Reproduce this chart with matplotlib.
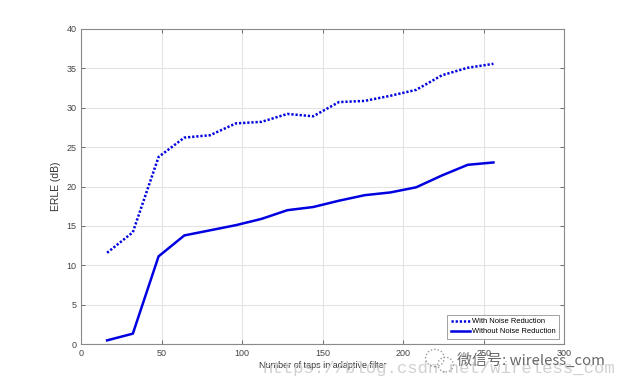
import matplotlib.pyplot as plt
from matplotlib.patches import Ellipse

plt.rcParams['font.family'] = ['Liberation Sans', 'DejaVu Sans']

taps = [16, 32, 48, 64, 80, 96, 112, 128, 144, 160, 176, 192, 208, 224, 240, 256]
with_nr = [11.6, 14.2, 23.75, 26.2, 26.5, 28.0, 28.2, 29.2, 28.9, 30.7, 30.85, 31.5, 32.25, 34.1, 35.05, 35.55]
without_nr = [0.5, 1.35, 11.15, 13.8, 14.45, 15.1, 15.9, 17.0, 17.4, 18.2, 18.9, 19.25, 19.9, 21.4, 22.75, 23.05]

xticks = [0, 50, 100, 150, 200, 250, 300]
yticks = [0, 5, 10, 15, 20, 25, 30, 35, 40]

axcol = '#5a5a5a'
blue = '#0000e0'

fig = plt.figure(figsize=(6.24, 3.87), dpi=100)
ax = fig.add_axes([0.1303, 0.1103, 0.774, 0.8155])

ax.plot(taps, with_nr, color=blue, linestyle=(0, (0.9, 0.75)), linewidth=1.8,
        label='With Noise Reduction')
ax.plot(taps, without_nr, color=blue, linestyle='-', linewidth=1.8,
        label='Without Noise Reduction')

ax.set_xlim(0, 300)
ax.set_ylim(0, 40)
ax.set_xticks(xticks)
ax.set_yticks(yticks)
ax.grid(True, color='#e3e3e3', linewidth=0.8)
ax.set_axisbelow(True)
ax.tick_params(direction='in', length=3, width=0.6, colors=axcol, labelsize=6.5,
               top=True, right=True, labelcolor='#444444')
for s in ax.spines.values():
    s.set_color('#8a8a8a')
    s.set_linewidth(0.8)

ax.set_xlabel('Number of taps in adaptive filter', fontsize=6.5, color='#333333', labelpad=2)
ax.set_ylabel('ERLE (dB)', fontsize=7.5, color='#333333', labelpad=4)

leg = ax.legend(loc='lower right', fontsize=5.4, frameon=True, fancybox=False,
                handlelength=2.6, handletextpad=0.2, borderpad=0.45, labelspacing=0.35,
                borderaxespad=0.75)
leg.get_frame().set_edgecolor('#8a8a8a')
leg.get_frame().set_linewidth(0.7)

# watermarks
fig.text(0.42, 0.048, 'https://blog.csdn.net/wireless_com', fontsize=12.4,
         family='Liberation Mono', color='#d0d0d0', va='center', ha='left', zorder=0)
fig.add_artist(Ellipse((0.697, 0.075), 0.03, 0.045, transform=fig.transFigure,
                       fill=False, edgecolor='#999999', linestyle=(0, (1, 1.5)), linewidth=1))
fig.add_artist(Ellipse((0.714, 0.058), 0.025, 0.038, transform=fig.transFigure,
                       fill=False, edgecolor='#999999', linestyle=(0, (1, 1.5)), linewidth=1))
fig.text(0.733, 0.07, '微信号: wireless_com', fontsize=10.8,
         family=['Noto Sans CJK SC', 'DejaVu Sans'], color='#6a6a6a', va='center', ha='left')

fig.savefig('out.png', dpi=100)
